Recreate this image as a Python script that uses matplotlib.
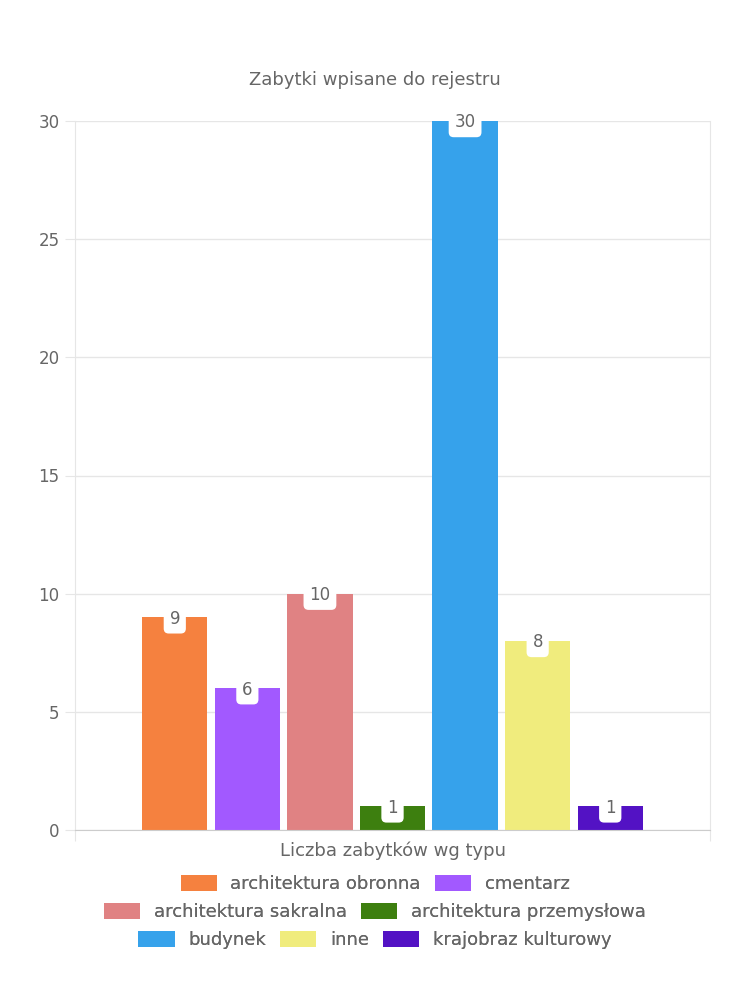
import matplotlib
import matplotlib.pyplot as plt
matplotlib.use('Agg')

plt.rcParams['font.family'] = ['DejaVu Sans']

series = ["architektura obronna", "cmentarz", "architektura sakralna",
          "architektura przemysłowa", "budynek", "inne", "krajobraz kulturowy"]
values = [9, 6, 10, 1, 30, 8, 1]
colors = ["#F5813F", "#A259FF", "#E08283", "#3D7F0F", "#36A2EB",
          "#F0EC7D", "#5312C4"]
y_ticks = [0, 5, 10, 15, 20, 25, 30]
legend_rows = [[0, 1], [2, 3], [4, 5, 6]]

text_color = "#666666"
grid_color = "#e6e6e6"

fig = plt.figure(figsize=(7.5, 10), dpi=100)
ax = fig.add_axes([0.1, 0.17, 0.8467, 0.709])

group = 0.8
slot = group / len(series)
bar_w = slot * 0.9
bars = []
for i, (name, v, c) in enumerate(zip(series, values, colors)):
    x = -group / 2 + slot * (i + 0.5)
    b = ax.bar(x, v, width=bar_w, color=c, label=name, zorder=2)
    bars.append(b)
    ax.annotate(str(v), (x, v), xytext=(0, -1), textcoords="offset points",
                ha="center", va="center", fontsize=12, color=text_color,
                zorder=3,
                bbox=dict(boxstyle="round,pad=0.35,rounding_size=0.3",
                          fc="white", ec="none"))

ax.set_xlim(-0.5, 0.5)
ax.set_ylim(0, 30)
ax.set_yticks(y_ticks)
ax.set_yticklabels([str(t) for t in y_ticks], fontsize=12, color=text_color)
ax.set_xticks([-0.5, 0.5])
ax.set_xticklabels(["", ""])
ax.tick_params(axis="y", length=7, color=grid_color, pad=4)
ax.tick_params(axis="x", length=8, color=grid_color)
ax.grid(axis="y", color=grid_color, linewidth=1, zorder=0)
for side in ["left", "right", "top"]:
    ax.spines[side].set_color(grid_color)
ax.spines["top"].set_visible(False)
ax.spines["bottom"].set_color("#cccccc")

ax.set_xlabel("Liczba zabytków wg typu", fontsize=13, color=text_color,
              labelpad=-3)
fig.text(0.5, 0.92, "Zabytki wpisane do rejestru", ha="center", va="center",
         fontsize=13, color=text_color)

row_y = [0.116, 0.088, 0.060]
for row, y in zip(legend_rows, row_y):
    leg = fig.legend([bars[i] for i in row], [series[i] for i in row],
                     loc="center", bbox_to_anchor=(0.5, y), ncol=len(row),
                     frameon=False, fontsize=13, handlelength=2.0,
                     handleheight=1.0, handletextpad=0.75, columnspacing=0.8,
                     labelcolor=text_color, borderpad=0.0)
    fig.add_artist(leg)

fig.savefig("out.png", dpi=100)
